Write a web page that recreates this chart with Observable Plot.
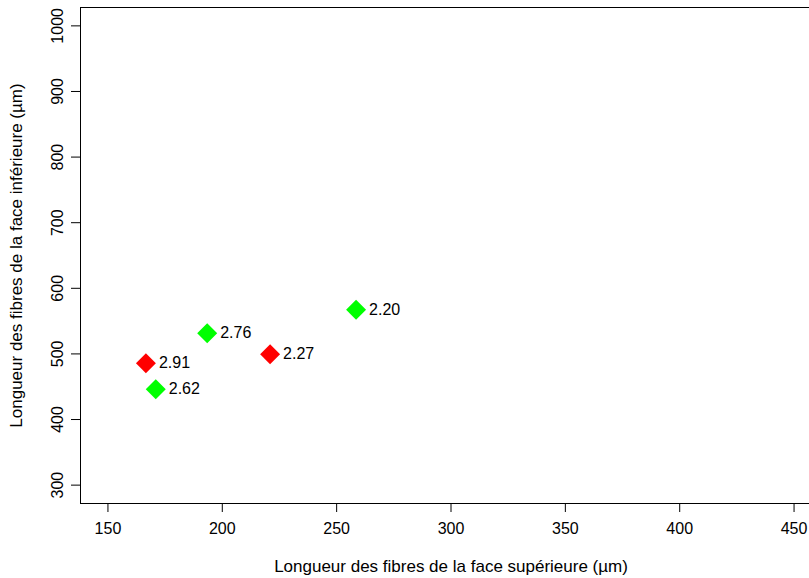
<!DOCTYPE html>
<html>
<head>
<meta charset="utf-8">
<script src="https://cdn.jsdelivr.net/npm/d3@7"></script>
<script src="https://cdn.jsdelivr.net/npm/@observablehq/plot@0.6"></script>
<style>
  html, body { margin: 0; padding: 0; background: #fff; overflow: hidden; }
  #chart { width: 809px; height: 578px; overflow: hidden; }
  #chart svg { display: block; max-width: none !important; width: 822px; height: 578px; }
  #chart svg [aria-label="x-axis label"] text, #chart svg [aria-label="y-axis label"] text { font-size: 17px; }
</style>
</head>
<body>
<div id="chart"></div>
<script>
const upper = [258.5, 193.4, 220.9, 166.6, 170.9];
const lower = [567.4, 531.6, 499.5, 485.7, 446.0];
const ratios = ["2.20", "2.76", "2.27", "2.91", "2.62"];
const groups = ["vert", "vert", "rouge", "rouge", "vert"];
const xTicks = [150, 200, 250, 300, 350, 400, 450];
const yTicks = [300, 400, 500, 600, 700, 800, 900, 1000];
const xTitle = "Longueur des fibres de la face supérieure (µm)";
const yTitle = "Longueur des fibres de la face inférieure (µm)";

const data = upper.map((u, i) => ({x: u, y: lower[i], label: ratios[i], g: groups[i]}));

const chart = Plot.plot({
  width: 822,
  height: 578,
  marginLeft: 80,
  marginRight: 1,
  marginTop: 7,
  marginBottom: 75,
  style: {fontFamily: "'Liberation Sans', Arial, sans-serif", fontSize: "16px", color: "#000", background: "#fff", maxWidth: "none"},
  x: {domain: [138, 462]},
  y: {domain: [272, 1028]},
  color: {domain: ["vert", "rouge"], range: ["#00ff00", "#ff0000"]},
  marks: [
    Plot.frame({stroke: "#000", strokeWidth: 1}),
    Plot.axisX(xTicks, {tickSize: 9, tickPadding: 10, fontSize: 16, tickFormat: d => String(d), label: xTitle, labelAnchor: "center", labelArrow: "none", labelOffset: 68}),
    Plot.axisY(yTicks, {tickSize: 9, tickPadding: 9, fontSize: 16, tickFormat: d => String(d), tickRotate: -90, textAnchor: "middle", lineAnchor: "bottom", label: yTitle, labelAnchor: "center", labelArrow: "none", labelOffset: 71}),
    Plot.dot(data, {x: "x", y: "y", fill: "g", symbol: "diamond2", r: 9, stroke: null}),
    Plot.text(data, {x: "x", y: "y", text: "label", dx: 13, textAnchor: "start", fontSize: 16, fill: "#000"})
  ]
});
document.getElementById("chart").appendChild(chart);
</script>
</body>
</html>
